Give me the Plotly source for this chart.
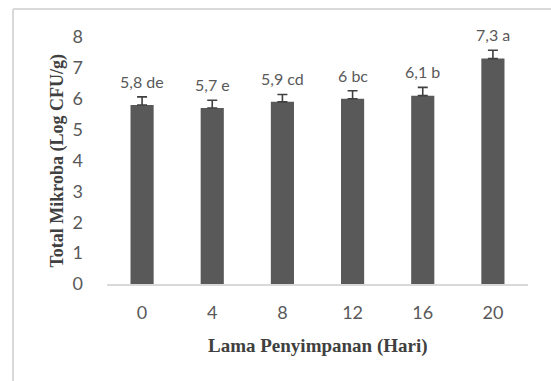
import plotly.graph_objects as go

# Storage days, mean total microbes (log CFU/g), standard error and significance letters
days = ["0", "4", "8", "12", "16", "20"]
total_mikroba = [5.8, 5.7, 5.9, 6.0, 6.1, 7.3]
galat = [0.26, 0.25, 0.24, 0.26, 0.27, 0.27]
notasi = ["de", "e", "cd", "bc", "b", "a"]

y_ticks = [0, 1, 2, 3, 4, 5, 6, 7, 8]


def fmt(v):
    # decimal comma, drop trailing ",0"
    return str(int(v)) if v == int(v) else str(v).replace(".", ",")


labels = [f"{fmt(v)} {n}" for v, n in zip(total_mikroba, notasi)]

W, H = 551, 381
L, R, T, B = 107, 23, 37, 97
pw, ph = W - L - R, H - T - B


def px_x(x):
    return (x - L) / pw


def px_y(y):
    return (H - B - y) / ph


fig = go.Figure()
fig.add_trace(go.Bar(
    x=days, y=total_mikroba,
    marker=dict(color="#595959", line=dict(width=0)),
    width=0.33,
    error_y=dict(type="data", array=galat, symmetric=False,
                 arrayminus=[0] * len(galat),
                 color="#404040", thickness=1.6, width=5),
    hoverinfo="skip",
))

# value + letter labels above the error caps (category index positions)
for i, (v, e, t) in enumerate(zip(total_mikroba, galat, labels)):
    fig.add_annotation(x=i, y=v + e, text=t, showarrow=False,
                       xanchor="center", yanchor="bottom", yshift=4,
                       font=dict(family="Lato", size=16, color="#595959"))

# axis titles
fig.add_annotation(xref="paper", yref="paper", x=0.5, y=px_y(346),
                   text="<b>Lama Penyimpanan (Hari)</b>", showarrow=False,
                   xanchor="center", yanchor="middle",
                   font=dict(family="Liberation Serif", size=19, color="#404040"))
fig.add_annotation(xref="paper", yref="paper", x=px_x(57), y=0.5,
                   text="<b>Total Mikroba (Log CFU/g)</b>", showarrow=False,
                   textangle=-90, xanchor="center", yanchor="middle",
                   font=dict(family="Liberation Serif", size=18, color="#404040"))

# Light chart-area frame (left and top edges)
frame = "#d9d9d9"
fig.add_shape(type="line", xref="paper", yref="paper",
              x0=px_x(13), x1=px_x(13), y0=px_y(9), y1=px_y(H + 5),
              line=dict(color=frame, width=2))
fig.add_shape(type="line", xref="paper", yref="paper",
              x0=px_x(13), x1=px_x(W + 5), y0=px_y(9), y1=px_y(9),
              line=dict(color=frame, width=2))

fig.update_layout(
    width=W, height=H,
    margin=dict(l=L, r=R, t=T, b=B, pad=0),
    paper_bgcolor="white", plot_bgcolor="white",
    showlegend=False,
    font=dict(family="Lato", color="#595959"),
    xaxis=dict(
        type="category", range=[-0.5, len(days) - 0.5],
        tickmode="array", tickvals=days, ticktext=days,
        showgrid=False, zeroline=False,
        showline=True, linecolor="#d9d9d9", linewidth=1.5,
        ticks="", ticklabelstandoff=12,
        tickfont=dict(size=18, color="#595959"),
    ),
    yaxis=dict(
        range=[0, 8], tickvals=y_ticks, showgrid=False, zeroline=False,
        showline=False, ticks="", ticklabelstandoff=23,
        tickfont=dict(size=18, color="#595959"),
    ),
)

fig.write_html("out.html")
